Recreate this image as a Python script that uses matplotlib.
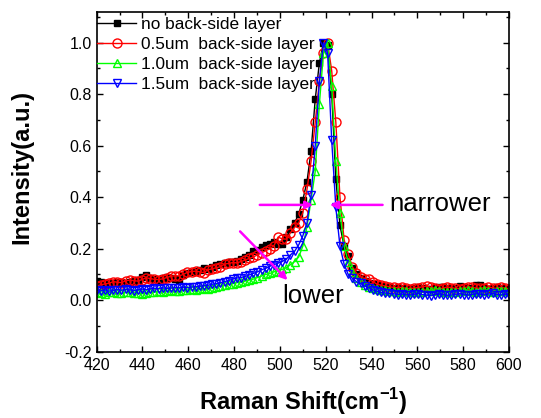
import numpy as np
import matplotlib
matplotlib.use('Agg')
import matplotlib.pyplot as plt
from matplotlib.ticker import MultipleLocator, FormatStrFormatter

plt.rcParams['font.family'] = ['Liberation Sans', 'DejaVu Sans']
plt.rcParams['axes.unicode_minus'] = False
plt.rcParams['mathtext.fontset'] = 'custom'
plt.rcParams['mathtext.rm'] = 'Liberation Sans'
plt.rcParams['mathtext.bf'] = 'Liberation Sans:bold'

# sampling grid of the spectra (cm^-1), step
raman_shift = np.round(np.arange(420.0, 600.01, 1.8), 1)

no_layer = [
    0.074, 0.070, 0.066, 0.064, 0.068, 0.072, 0.070, 0.066, 0.071, 0.075,
    0.078, 0.090, 0.098, 0.088, 0.082, 0.079, 0.085, 0.090, 0.088, 0.082,
    0.080, 0.098, 0.104, 0.108, 0.112, 0.118, 0.124, 0.120, 0.128, 0.135,
    0.142, 0.146, 0.150, 0.148, 0.152, 0.158, 0.166, 0.175, 0.190, 0.195,
    0.205, 0.215, 0.218, 0.224, 0.220, 0.217, 0.245, 0.275, 0.300, 0.335,
    0.390, 0.460, 0.580, 0.780, 0.920, 1.000, 0.990, 0.800, 0.470, 0.290,
    0.210, 0.170, 0.125, 0.100, 0.085, 0.075, 0.068, 0.062, 0.058, 0.055,
    0.052, 0.050, 0.048, 0.047, 0.049, 0.045, 0.044, 0.046, 0.050, 0.048,
    0.045, 0.043, 0.048, 0.052, 0.050, 0.046, 0.044, 0.047, 0.055, 0.050,
    0.046, 0.045, 0.060, 0.058, 0.048, 0.045, 0.046, 0.050, 0.047, 0.045,
    0.044]

layer_05 = [
    0.055, 0.060, 0.063, 0.066, 0.072, 0.070, 0.068, 0.075, 0.078, 0.076,
    0.074, 0.080, 0.087, 0.084, 0.081, 0.080, 0.083, 0.088, 0.093, 0.095,
    0.094, 0.100, 0.108, 0.111, 0.113, 0.110, 0.107, 0.118, 0.122, 0.126,
    0.130, 0.140, 0.143, 0.146, 0.145, 0.150, 0.156, 0.162, 0.168, 0.176,
    0.184, 0.192, 0.200, 0.212, 0.245, 0.238, 0.237, 0.262, 0.283, 0.300,
    0.340, 0.430, 0.540, 0.690, 0.850, 0.960, 1.000, 0.890, 0.690, 0.400,
    0.235, 0.180, 0.130, 0.105, 0.090, 0.084, 0.081, 0.072, 0.062, 0.058,
    0.055, 0.052, 0.050, 0.048, 0.050, 0.046, 0.045, 0.047, 0.049, 0.052,
    0.055, 0.050, 0.046, 0.044, 0.047, 0.051, 0.049, 0.046, 0.045, 0.048,
    0.052, 0.050, 0.047, 0.046, 0.049, 0.051, 0.048, 0.046, 0.050, 0.047,
    0.045]

layer_10 = [
    0.030, 0.028, 0.025, 0.030, 0.032, 0.028, 0.026, 0.030, 0.033, 0.029,
    0.027, 0.025, 0.028, 0.030, 0.032, 0.034, 0.033, 0.035, 0.038, 0.036,
    0.034, 0.038, 0.040, 0.042, 0.041, 0.044, 0.046, 0.045, 0.048, 0.052,
    0.055, 0.058, 0.062, 0.064, 0.068, 0.070, 0.074, 0.078, 0.082, 0.088,
    0.094, 0.100, 0.104, 0.110, 0.114, 0.120, 0.126, 0.138, 0.150, 0.168,
    0.210, 0.285, 0.390, 0.500, 0.760, 0.960, 1.000, 0.830, 0.540, 0.340,
    0.210, 0.150, 0.110, 0.085, 0.070, 0.060, 0.052, 0.048, 0.042, 0.040,
    0.038, 0.036, 0.035, 0.033, 0.034, 0.036, 0.033, 0.031, 0.030, 0.032,
    0.034, 0.036, 0.038, 0.035, 0.033, 0.032, 0.030, 0.031, 0.034, 0.037,
    0.038, 0.035, 0.033, 0.036, 0.038, 0.035, 0.032, 0.034, 0.036, 0.035,
    0.034]

layer_15 = [
    0.038, 0.036, 0.040, 0.035, 0.038, 0.041, 0.039, 0.042, 0.040, 0.037,
    0.040, 0.043, 0.041, 0.044, 0.046, 0.045, 0.048, 0.046, 0.047, 0.049,
    0.048, 0.050, 0.049, 0.051, 0.052, 0.054, 0.056, 0.058, 0.062, 0.064,
    0.068, 0.072, 0.076, 0.082, 0.086, 0.088, 0.092, 0.098, 0.104, 0.110,
    0.118, 0.124, 0.132, 0.138, 0.144, 0.150, 0.160, 0.176, 0.190, 0.215,
    0.250, 0.300, 0.410, 0.600, 0.850, 1.000, 0.960, 0.620, 0.360, 0.210,
    0.140, 0.100, 0.085, 0.072, 0.065, 0.055, 0.048, 0.040, 0.035, 0.030,
    0.028, 0.026, 0.025, 0.022, 0.024, 0.021, 0.020, 0.023, 0.025, 0.022,
    0.020, 0.018, 0.022, 0.024, 0.021, 0.019, 0.020, 0.023, 0.025, 0.022,
    0.020, 0.022, 0.025, 0.023, 0.021, 0.024, 0.026, 0.022, 0.020, 0.023,
    0.022]

labels = ['no back-side layer', '0.5um  back-side layer',
          '1.0um  back-side layer', '1.5um  back-side layer']
colors = ['#000000', '#ff0000', '#00ff00', '#0000ff']
markers = ['s', 'o', '^', 'v']
filled = [True, False, False, False]
sizes = [5.0, 6.5, 6.0, 6.0]

x_ticks = [420, 440, 460, 480, 500, 520, 540, 560, 580, 600]
y_ticks = [-0.2, 0.0, 0.2, 0.4, 0.6, 0.8, 1.0]

fig = plt.figure(figsize=(5.41, 4.18), dpi=100)
ax = fig.add_axes([0.1787, 0.1586, 0.7622, 0.8134])

for vals, lab, c, m, f, s in zip([no_layer, layer_05, layer_10, layer_15],
                                 labels, colors, markers, filled, sizes):
    ax.plot(raman_shift, vals, color=c, lw=1.0, marker=m, ms=s,
            mfc=c if f else 'none', mec=c, mew=1.0, label=lab)

ax.set_xlim(420, 600)
ax.set_ylim(-0.2, 1.12)
ax.set_xticks(x_ticks)
ax.set_yticks(y_ticks)
ax.xaxis.set_minor_locator(MultipleLocator(10))
ax.yaxis.set_minor_locator(MultipleLocator(0.1))
ax.yaxis.set_major_formatter(FormatStrFormatter('%.1f'))
ax.tick_params(which='both', direction='in', top=True, right=True,
               labelsize=11.5, width=1.0)
ax.tick_params(which='major', length=4.5)
ax.tick_params(which='minor', length=2.5)
ax.tick_params(axis='x', which='major', pad=4.5)
ax.tick_params(axis='y', which='major', pad=3.5)
for sp in ax.spines.values():
    sp.set_linewidth(1.2)

leg = ax.legend(loc='upper left', bbox_to_anchor=(-0.002, 0.987), frameon=False,
                fontsize=12.4, handlelength=2.3, handletextpad=0.3,
                borderaxespad=0.0, borderpad=0.05, labelspacing=0.28)

mag = '#ff00ff'
ap = dict(arrowstyle='-|>', color=mag, lw=1.8, mutation_scale=11,
          shrinkA=0, shrinkB=0)
ax.annotate('', xy=(514.5, 0.37), xytext=(491.2, 0.37), arrowprops=ap)
ax.annotate('', xy=(521.8, 0.37), xytext=(544.8, 0.37), arrowprops=ap)
ax.annotate('', xy=(503.3, 0.078), xytext=(482.6, 0.267), arrowprops=ap)
ax.text(547.6, 0.347, 'narrower', fontsize=18.5, ha='left', va='baseline')
ax.text(500.8, -0.011, 'lower', fontsize=18.5, ha='left', va='baseline')

fig.text(0.56, 0.019, r'Raman Shift(cm$^{\mathbf{-1}}$)', fontsize=17,
         fontweight='bold', ha='center', va='baseline')
fig.text(0.0407, 0.6005, 'Intensity(a.u.)', fontsize=17, fontweight='bold',
         rotation=90, ha='center', va='center')

fig.savefig('out.png', dpi=100)
